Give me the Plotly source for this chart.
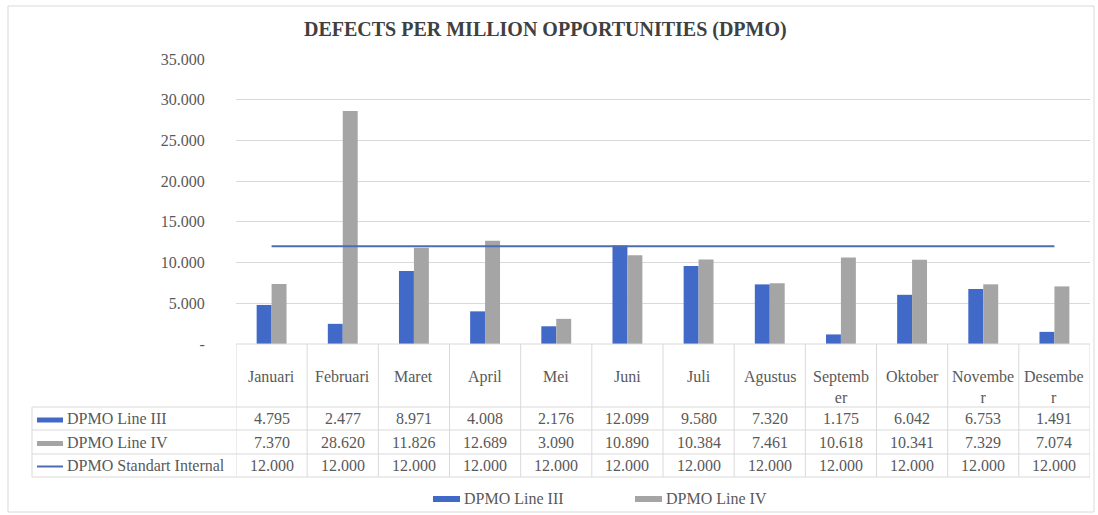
import plotly.graph_objects as go

# ---------------- data ----------------
months = ["Januari", "Februari", "Maret", "April", "Mei", "Juni", "Juli",
          "Agustus", "September", "Oktober", "November", "Desember"]
month_headers = ["Januari", "Februari", "Maret", "April", "Mei", "Juni", "Juli",
                 "Agustus", "Septemb<br>er", "Oktober", "Novembe<br>r", "Desembe<br>r"]
line3 = [4795, 2477, 8971, 4008, 2176, 12099, 9580, 7320, 1175, 6042, 6753, 1491]
line4 = [7370, 28620, 11826, 12689, 3090, 10890, 10384, 7461, 10618, 10341, 7329, 7074]
standard = [12000, 12000, 12000, 12000, 12000, 12000, 12000, 12000, 12000, 12000, 12000, 12000]
series_names = ["DPMO Line III", "DPMO Line IV", "DPMO Standart Internal"]
y_ticks = [0, 5000, 10000, 15000, 20000, 25000, 30000, 35000]
y_tick_labels = ["-", "5.000", "10.000", "15.000", "20.000", "25.000", "30.000", "35.000"]
title_text = "DEFECTS PER MILLION OPPORTUNITIES (DPMO)"

# ---------------- styling / layout ----------------
W, H = 1098, 515
L, R, T, B = 236, 8, 59, 171          # plot area 236..1090 x 59..344
PW, PH = W - L - R, H - T - B
BLUE = "#4169c8"
GRAY = "#a5a5a5"
LINEC = "#4e6db0"
TXT = "#595959"
GRID = "#d9d9d9"
FONT = "Liberation Serif, Times New Roman, serif"
FS = 16


def px(xp):
    return (xp - L) / PW


def py(yp):
    return (T + PH - yp) / PH


def fmt(v):
    return f"{v:,}".replace(",", ".")


fig = go.Figure()
fig.add_trace(go.Bar(x=months, y=line3, name=series_names[0], marker_color=BLUE,
                     marker_line_width=0))
fig.add_trace(go.Bar(x=months, y=line4, name=series_names[1], marker_color=GRAY,
                     marker_line_width=0))
fig.add_trace(go.Scatter(x=months, y=standard, name=series_names[2], mode="lines",
                         line=dict(color=LINEC, width=2)))

shapes = []
annotations = []

# outer chart border
shapes.append(dict(type="rect", xref="paper", yref="paper",
                   x0=px(8), x1=px(1094), y0=py(6), y1=py(512),
                   line=dict(color=GRID, width=1), fillcolor="rgba(0,0,0,0)", layer="below"))

# table geometry (pixels)
tbl_top, hdr_bot = 344, 407
row_lines = [407, 430, 454, 477]
row_centers = [418.5, 442, 465.5]
lbl_left = 32
n = len(months)

# horizontal lines
shapes.append(dict(type="line", xref="paper", yref="paper", x0=0, x1=1,
                   y0=py(tbl_top), y1=py(tbl_top), line=dict(color=GRID, width=1)))
for yl in row_lines:
    shapes.append(dict(type="line", xref="paper", yref="paper", x0=px(lbl_left), x1=1,
                       y0=py(yl), y1=py(yl), line=dict(color=GRID, width=1)))
# vertical lines
for i in range(n + 1):
    shapes.append(dict(type="line", xref="x", yref="paper", x0=i - 0.5, x1=i - 0.5,
                       y0=py(tbl_top), y1=py(row_lines[-1]), line=dict(color=GRID, width=1)))
shapes.append(dict(type="line", xref="paper", yref="paper", x0=px(lbl_left), x1=px(lbl_left),
                   y0=py(hdr_bot), y1=py(row_lines[-1]), line=dict(color=GRID, width=1)))

# header texts
for m, h in zip(months, month_headers):
    annotations.append(dict(xref="x", yref="paper", x=m, y=py(366), text=h,
                            showarrow=False, yanchor="top", xanchor="center",
                            font=dict(family=FONT, size=FS, color=TXT)))

# values
for r, vals in enumerate([line3, line4, standard]):
    for m, v in zip(months, vals):
        annotations.append(dict(xref="x", yref="paper", x=m, y=py(row_centers[r]), text=fmt(v),
                                showarrow=False, xanchor="center", yanchor="middle",
                                font=dict(family=FONT, size=FS, color=TXT)))

# row labels with keys
key_colors = [BLUE, GRAY, LINEC]
key_h = [5, 5, 2]
for r, name in enumerate(series_names):
    yc = row_centers[r] + (1.5 if r < 2 else 1)
    shapes.append(dict(type="rect", xref="paper", yref="paper",
                       x0=px(37), x1=px(63), y0=py(yc - key_h[r] / 2), y1=py(yc + key_h[r] / 2),
                       fillcolor=key_colors[r], line=dict(width=0)))
    annotations.append(dict(xref="paper", yref="paper", x=px(65), y=py(row_centers[r]), text=name,
                            showarrow=False, xanchor="left", yanchor="middle",
                            font=dict(family=FONT, size=FS, color=TXT)))

# bottom legend (bars only)
leg = [(433, 460, 462, BLUE, series_names[0]), (635, 662, 664, GRAY, series_names[1])]
for k0, k1, tx, col, name in leg:
    shapes.append(dict(type="rect", xref="paper", yref="paper",
                       x0=px(k0), x1=px(k1), y0=py(502), y1=py(496),
                       fillcolor=col, line=dict(width=0)))
    annotations.append(dict(xref="paper", yref="paper", x=px(tx), y=py(498), text=name,
                            showarrow=False, xanchor="left", yanchor="middle",
                            font=dict(family=FONT, size=FS, color=TXT)))

# title
annotations.append(dict(xref="paper", yref="paper", x=px(545), y=py(30),
                        text="<b>" + title_text + "</b>", showarrow=False,
                        xanchor="center", yanchor="middle",
                        font=dict(family=FONT, size=20, color="#404040")))

fig.update_layout(
    width=W, height=H,
    margin=dict(l=L, r=R, t=T, b=B, pad=0),
    paper_bgcolor="white", plot_bgcolor="white",
    barmode="group", bargap=0.58, bargroupgap=0,
    showlegend=False,
    shapes=shapes, annotations=annotations,
    font=dict(family=FONT, color=TXT),
    xaxis=dict(type="category", range=[-0.5, n - 0.5], showticklabels=False,
               showgrid=False, zeroline=False, showline=False, ticks=""),
    yaxis=dict(range=[0, 35000], tickvals=y_ticks, ticktext=y_tick_labels,
               showgrid=True, gridcolor=GRID, gridwidth=1, zeroline=False,
               showline=False, ticks="outside", ticklen=27, tickcolor="rgba(0,0,0,0)",
               tickfont=dict(family=FONT, size=FS, color=TXT)),
)

fig.write_html("out.html")
